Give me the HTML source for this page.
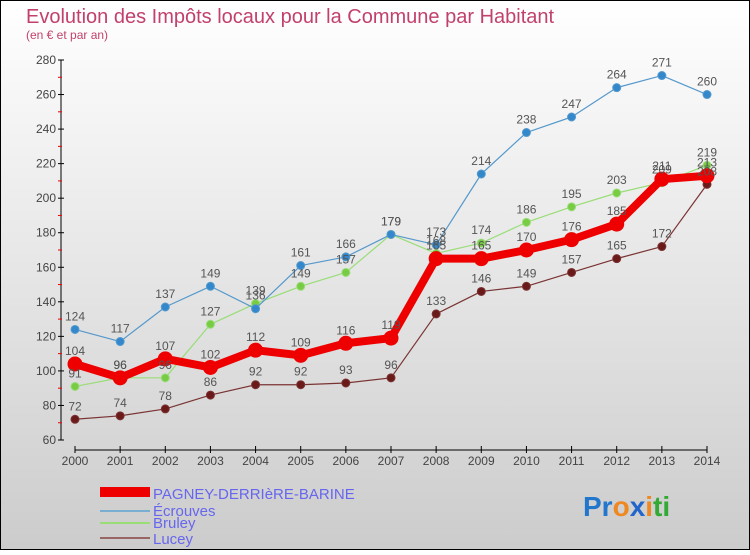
<!DOCTYPE html>
<html><head><meta charset="utf-8"><style>
html,body{margin:0;padding:0}
body{width:750px;height:550px;overflow:hidden;font-family:"Liberation Sans",sans-serif}
svg text{font-family:"Liberation Sans",sans-serif}
</style></head><body>
<svg id="chart" width="750" height="550" xmlns="http://www.w3.org/2000/svg">
<defs><linearGradient id="bg" x1="0" y1="0" x2="0" y2="1"><stop offset="0" stop-color="#ffffff"/><stop offset="1" stop-color="#cccccc"/></linearGradient></defs>
<rect x="0.5" y="0.5" width="749" height="549" fill="url(#bg)" stroke="#000"/>
<text x="26" y="23" font-size="20" fill="#c2406e">Evolution des Impôts locaux pour la Commune par Habitant</text>
<text x="26" y="39" font-size="12" fill="#c2406e">(en € et par an)</text>
<g id="axes"></g><g id="series"></g><g id="labels"></g>
<g>
<rect x="100" y="487" width="50" height="10" fill="#ee0000"/>
<text x="153" y="499" font-size="15" fill="#6666ee">PAGNEY-DERRIèRE-BARINE</text>
<rect x="100" y="510" width="50" height="2" fill="#7aaed0"/>
<text x="153" y="516" font-size="15" fill="#6666ee">Écrouves</text>
<rect x="100" y="522" width="50" height="2" fill="#99dd77"/>
<text x="153" y="528" font-size="15" fill="#6666ee">Bruley</text>
<rect x="100" y="537" width="50" height="2" fill="#996666"/>
<text x="153" y="544" font-size="15" fill="#6666ee">Lucey</text>
</g>
<g font-size="28" font-weight="bold">
<text x="583" y="516"><tspan fill="#2277cc">Pr</tspan><tspan fill="#ee8822">o</tspan><tspan fill="#2266cc">x</tspan><tspan fill="#ee8822">i</tspan><tspan fill="#33aa33">ti</tspan></text>
</g>
</svg>
<script>
const years=[2000,2001,2002,2003,2004,2005,2006,2007,2008,2009,2010,2011,2012,2013,2014];
const yTicks=[60,80,100,120,140,160,180,200,220,240,260,280];
const pagney=[104,96,107,102,112,109,116,119,165,165,170,176,185,211,213];
const ecrouves=[124,117,137,149,136,161,166,179,173,214,238,247,264,271,260];
const bruley=[91,96,96,127,139,149,157,179,168,174,186,195,203,209,219];
const lucey=[72,74,78,86,92,92,93,96,133,146,149,157,165,172,208];
const NS="http://www.w3.org/2000/svg";
function x(i){return 75+i*(707-75)/14;}
function y(v){return 440-(v-60)*380/220;}
function mk(tag,attrs,parent){const e=document.createElementNS(NS,tag);for(const k in attrs)e.setAttribute(k,attrs[k]);parent.appendChild(e);return e;}
const ax=document.getElementById('axes'),sg=document.getElementById('series'),lg=document.getElementById('labels');
let a=mk('line',{x1:61,y1:60,x2:61,y2:440,stroke:'#000'},ax);


yTicks.forEach((v,k)=>{
 mk('line',{x1:58,y1:y(v),x2:64,y2:y(v),stroke:'#000'},ax);
 if(k<yTicks.length-1)mk('line',{x1:58,y1:y(v+10),x2:62,y2:y(v+10),stroke:'#e00'},ax);
 const t=mk('text',{x:56,y:y(v)+4,'font-size':12,'text-anchor':'end',fill:'#444'},ax);t.textContent=v;
 
 
});
let b=mk('line',{x1:75,y1:450,x2:707,y2:450,stroke:'#000'},ax);


years.forEach((yr,i)=>{
 mk('line',{x1:x(i),y1:446,x2:x(i),y2:453,stroke:'#000'},ax);
 const t=mk('text',{x:x(i),y:465,'font-size':12,'text-anchor':'middle',fill:'#444'},ax);t.textContent=yr;
 
 
});
function series(data,name,color,w,r,dot){
 const p=mk('polyline',{points:data.map((v,i)=>x(i)+','+y(v)).join(' '),fill:'none',stroke:color,'stroke-width':w,'stroke-linejoin':'round'},sg);
 
 
 data.forEach((v,i)=>{
  const c=mk('circle',{cx:x(i),cy:y(v),r:r,fill:dot,stroke:color,'stroke-width':1},sg);
  
  
  const t=mk('text',{x:x(i),y:y(v)-9,'font-size':12,'text-anchor':'middle',fill:'#555'},lg);t.textContent=v;
  
  
 });
}
series(lucey,'lucey','#7a3333',1.2,4,'#6b1a1a');
series(bruley,'bruley','#99dd77',1.2,4,'#77cc44');
series(ecrouves,'ecrouves','#5599cc',1.2,4,'#3388cc');
series(pagney,'pagney','#ee0000',8,7,'#ee0000');
</script>
</body></html>
